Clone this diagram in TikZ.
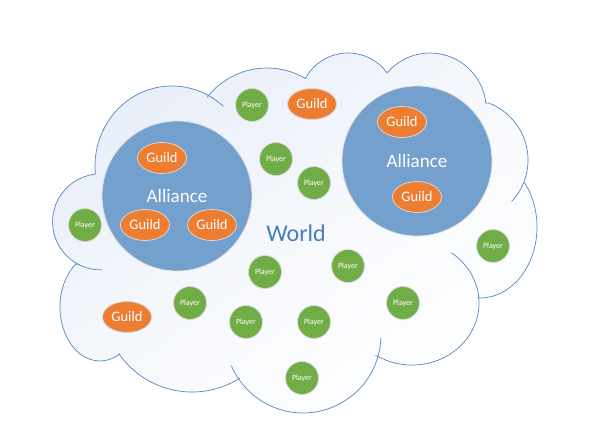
\documentclass[tikz,border=0pt]{standalone}
\usepackage{fontspec}
\setmainfont{Carlito}
\usepackage{tikz}
\usetikzlibrary{shapes.geometric}

\definecolor{cloudline}{RGB}{84,134,196}
\definecolor{cloudtop}{RGB}{232,238,248}
\definecolor{alliblue}{RGB}{116,160,205}
\definecolor{guildorange}{RGB}{237,125,49}
\definecolor{playergreen}{RGB}{112,173,71}
\definecolor{worldblue}{RGB}{72,125,190}

\tikzset{
  cloudedge/.style={draw=cloudline,line width=0.7pt},
  alliance/.style={circle,fill=alliblue,draw=black!12,line width=0.8pt,minimum size=150pt,inner sep=0pt,text=white,font=\fontsize{19}{19}\selectfont},
  guild/.style={ellipse,fill=guildorange,draw=black!15,line width=0.8pt,minimum width=49pt,minimum height=31pt,inner sep=0pt,text=white,font=\fontsize{14.5}{14.5}\selectfont},
  player/.style={circle,fill=playergreen,draw=black!15,line width=0.8pt,minimum size=33pt,inner sep=0pt,text=white,font=\fontsize{8}{8}\selectfont}
}

\begin{document}
\begin{tikzpicture}[x=1pt,y=1pt]
  \useasboundingbox (0,0) rectangle (589,-437);
  % cloud, lobes clockwise from the bottom left
  \draw[cloudedge,top color=cloudtop,bottom color=white,middle color=white!60!cloudtop,shading angle=35]
    (119.6,-354.0) arc[start angle=-60.6,end angle=-232.2,x radius=40,y radius=54]
    -- (78.4,-264.4) arc[start angle=242.5,end angle=96.7,radius=48]
    -- (95.4,-173.9) arc[start angle=185.7,end angle=61.9,x radius=77,y radius=80]
    -- (208.0,-96.1) arc[start angle=140.9,end angle=59.7,radius=76]
    -- (305.0,-79.0) arc[start angle=152.3,end angle=36.3,radius=48.6]
    -- (387.0,-73.0) arc[start angle=139.9,end angle=6.2,radius=56.2]
    -- (488.1,-102.8) arc[start angle=69.8,end angle=-21.6,radius=61]
    -- (524.8,-183.1) arc[start angle=38.2,end angle=-92,x radius=57,y radius=71]
    -- (478.7,-297.0) arc[start angle=5.6,end angle=-121.4,x radius=67,y radius=62]
    -- (378.1,-356.2) arc[start angle=-15.8,end angle=-145.7,radius=78]
    -- (240.0,-378.0) arc[start angle=-57.4,end angle=-144.2,radius=89]
    -- cycle;
  % inner ends of the lobes
  \draw[cloudedge] (102.0,-269.8) arc[start angle=271.7,end angle=242.5,radius=48];
  \draw[cloudedge] (208.3,-95.4) arc[start angle=61.9,end angle=48.2,x radius=77,y radius=80];
  \draw[cloudedge] (523.7,-182.5) arc[start angle=-21.6,end angle=-42.9,radius=61];
  \draw[cloudedge] (451.4,-252.8) arc[start angle=54.0,end angle=5.6,x radius=67,y radius=62];
  \draw[cloudedge] (380.9,-338.0) arc[start angle=-2.2,end angle=-15.8,radius=78];
  \draw[cloudedge] (238.6,-378.9) arc[start angle=-145.7,end angle=-156.8,radius=78];

  \node[text=worldblue,font=\fontsize{24}{24}\selectfont] (world) at (296,-233) {World};

  % alliances
  \node[alliance] (allianceL) at (177,-196) {Alliance};
  \node[alliance] (allianceR) at (417,-161) {Alliance};

  % guilds
  \foreach \gx/\gy [count=\i] in {312/104,162/158,145/225,212/225,402/122,417/197,127/317}
    \node[guild] (g\i) at (\gx,-\gy) {Guild};

  % players
  \foreach \px/\py [count=\i] in {252/105,276/159,314/183,85/225,493/246,265/272,
      348/266,190/303,403/303,246/322,314/322,302/378}
    \node[player] (p\i) at (\px,-\py) {Player};
\end{tikzpicture}
\end{document}
